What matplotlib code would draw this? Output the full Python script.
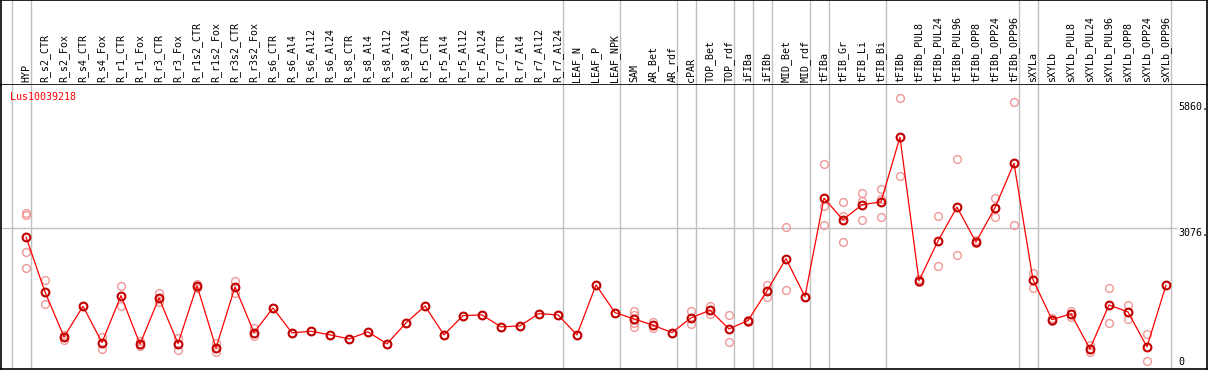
import numpy as np
import matplotlib
matplotlib.use('Agg')
import matplotlib.pyplot as plt

samples = ['HYP', 'R_s2_CTR', 'R_s2_Fox', 'R_s4_CTR', 'R_s4_Fox', 'R_r1_CTR', 'R_r1_Fox',
           'R_r3_CTR', 'R_r3_Fox', 'R_r1s2_CTR', 'R_r1s2_Fox', 'R_r3s2_CTR', 'R_r3s2_Fox',
           'R_s6_CTR', 'R_s6_Al4', 'R_s6_Al12', 'R_s6_Al24', 'R_s8_CTR', 'R_s8_Al4',
           'R_s8_Al12', 'R_s8_Al24', 'R_r5_CTR', 'R_r5_Al4', 'R_r5_Al12', 'R_r5_Al24',
           'R_r7_CTR', 'R_r7_Al4', 'R_r7_Al12', 'R_r7_Al24', 'LEAF_N', 'LEAF_P', 'LEAF_NPK',
           'SAM', 'AR_Bet', 'AR_rdf', 'cPAR', 'TOP_Bet', 'TOP_rdf', 'iFIBa', 'iFIBb',
           'MID_Bet', 'MID_rdf', 'tFIBa', 'tFIB_Gr', 'tFIB_Li', 'tFIB_Bi', 'tFIBb',
           'tFIBb_PUL8', 'tFIBb_PUL24', 'tFIBb_PUL96', 'tFIBb_OPP8', 'tFIBb_OPP24',
           'tFIBb_OPP96', 'sXYLa', 'sXYLb', 'sXYLb_PUL8', 'sXYLb_PUL24', 'sXYLb_PUL96',
           'sXYLb_OPP8', 'sXYLb_OPP24', 'sXYLb_OPP96']

# mean expression per sample
means = [2865, 1601, 567, 1272, 437, 1517, 398, 1463, 413, 1746, 314, 1716, 666,
         1233, 659, 697, 613, 521, 682, 406, 889, 1279, 613, 1057, 1073, 797, 820,
         1103, 1073, 613, 1762, 1126, 981, 835, 666, 1004, 1180, 751, 942, 1624,
         2367, 1494, 3761, 3263, 3608, 3676, 5163, 1861, 2773, 3554, 2750, 3538,
         4565, 1884, 965, 1096, 292, 1302, 1141, 338, 1754]

# individual replicates
replicates = [[3417, 3380, 2512, 2153], [1877, 1333], [620, 490], [1272], [567, 292],
              [1746, 1279], [467, 352], [1585, 1363], [544, 268], [1792, 1700],
              [429, 214], [1861, 1578], [774, 582], [1233], [659], [697], [613], [521],
              [682], [406], [889], [1279], [613], [1057], [1073], [797], [820], [1103],
              [1073], [613], [1762], [1126], [1172, 1073, 880, 797], [912, 774], [666],
              [1157, 858], [1272, 1103], [1073, 460], [960, 920], [1769, 1478],
              [3095, 1647], [1494], [4550, 3585, 3141], [3676, 3355, 2750],
              [3883, 3706, 3256], [3968, 3736, 3324], [6066, 4267], [1823, 1900],
              [3355, 2199], [4664, 2451], [2800, 2720], [3761, 3324], [5967, 3141],
              [2045, 1693], [1000, 930], [1172, 1020], [375, 214], [1693, 889],
              [1310, 981], [636, 23], [1754]]

group_sizes = [1, 28, 3, 3, 1, 2, 1, 1, 2, 1, 3, 7, 1, 7]
y_ticks = [0, 3076, 5860]
gene = 'Lus10039218'

W, H = 1209, 370
fig = plt.figure(figsize=(W / 100, H / 100), dpi=100)
mono = 'DejaVu Sans Mono'

x = np.arange(len(samples))
xlim = (-1.316, 62.16)
bounds = np.concatenate([[-0.75], np.cumsum(group_sizes) - 1 + 0.25])

# header with rotated sample names
head = fig.add_axes([1 / W, (H - 85) / H, 1206 / W, 85 / H])
head.set_xlim(*xlim)
head.set_ylim(0, 1)
head.set_xticks([])
head.set_yticks([])
for s in head.spines.values():
    s.set_linewidth(1.2)
    s.set_color('black')
for b in bounds:
    head.axvline(b, color='#c0c0c0', lw=1)
for xi, name in zip(x, samples):
    head.text(xi, 0.03, name, rotation=90, ha='center', va='bottom',
              fontsize=7.2, family=mono)

ax = fig.add_axes([1 / W, 1.5 / H, 1206 / W, 283.5 / H])
ax.set_xlim(*xlim)
ax.set_ylim(-161, 6365)
ax.set_xticks([])
ax.set_yticks([])
for s in ax.spines.values():
    s.set_linewidth(1.2)
    s.set_color('black')
ax.spines['top'].set_visible(False)
for b in bounds:
    ax.axvline(b, color='#c0c0c0', lw=1, zorder=1)
ax.hlines(y_ticks[1], xlim[0], 60.6, color='#c0c0c0', lw=1, zorder=1)

for xi, reps in zip(x, replicates):
    ax.plot([xi] * len(reps), reps, 'o', ms=5.6, mfc='none', mec='#f09898',
            mew=1.0, zorder=2)
ax.plot(x, means, '-', color='red', lw=0.9, zorder=3)
ax.plot(x, means, 'o', ms=5.6, mfc='none', mec='#c00000', mew=1.5, zorder=4)

ax.text(60.63, y_ticks[2], '5860.', ha='left', va='center', fontsize=7.2, family=mono)
ax.text(60.63, y_ticks[1], '3076.', ha='left', va='top', fontsize=7.2, family=mono)
ax.text(60.63, y_ticks[0], '0', ha='left', va='center', fontsize=7.2, family=mono)

fig.text(10 / W, 1 - 97 / H, gene, color='red', ha='left', va='center',
         fontsize=7.2, family=mono)

fig.savefig('out.png', dpi=100)
